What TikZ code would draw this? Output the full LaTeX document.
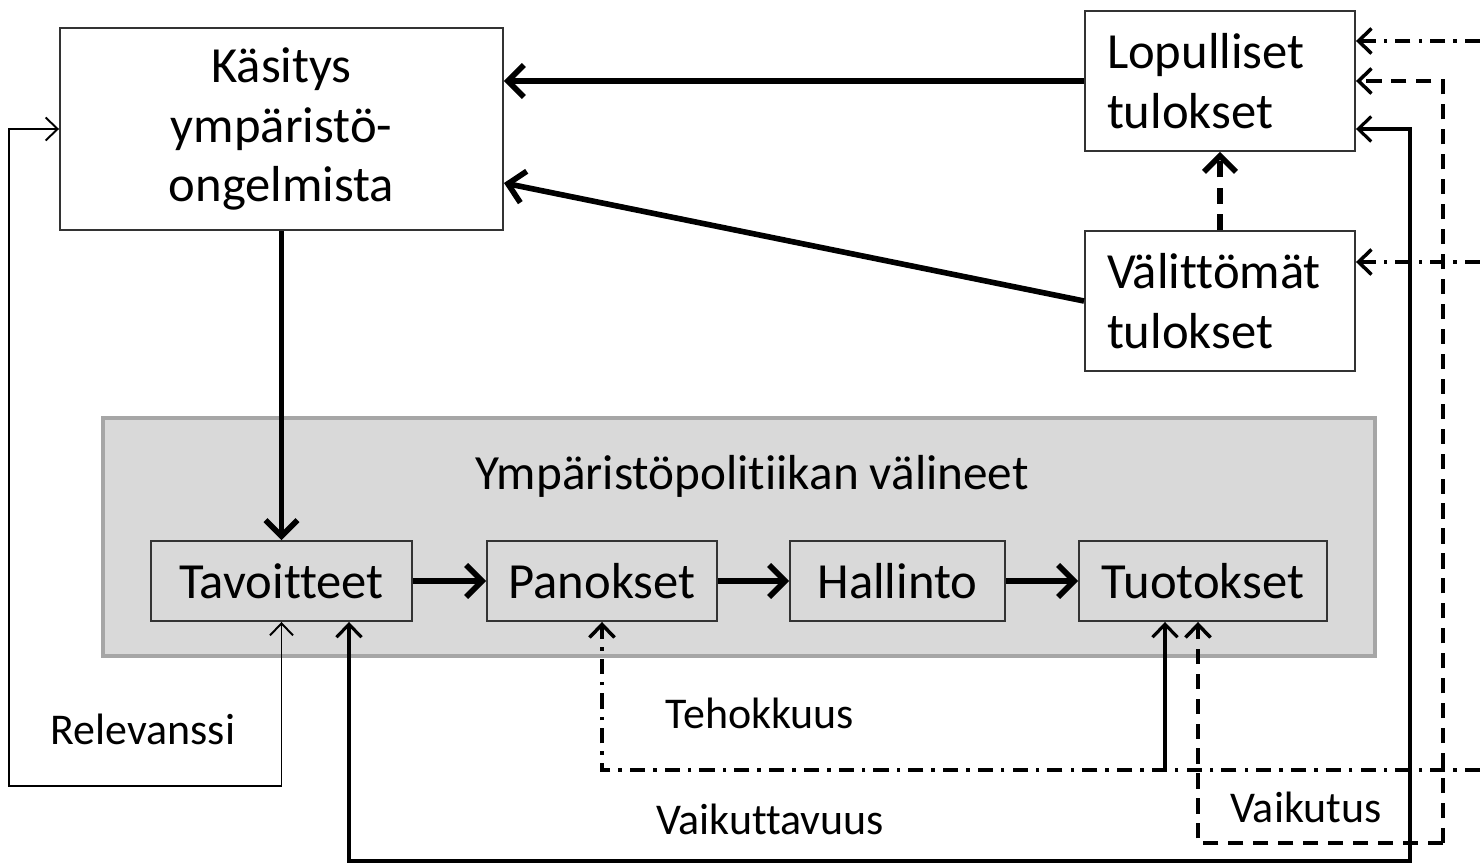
\documentclass[tikz,border=0pt]{standalone}
\usepackage{fontspec}
\setmainfont{Carlito}[Ligatures=NoCommon]
\usetikzlibrary{arrows.meta}

\begin{document}
\begin{tikzpicture}[
    box_node/.style={draw=black!80, line width=0.55pt, fill=white, inner sep=0pt,
        font=\fontsize{14.4}{17}\selectfont},
    step_node/.style={draw=black!80, line width=0.55pt, fill=black!15, inner sep=0pt,
        minimum height=0.8cm, font=\fontsize{14.4}{17}\selectfont},
    label_node/.style={font=\fontsize{12.5}{15}\selectfont},
    thick_arrow/.style={line width=1.6pt, -{Straight Barb[length=1.6mm,width=3.2mm,line width=1.6pt]}},
    mid_arrow/.style={line width=0.9pt, -{Straight Barb[length=1.3mm,width=2.5mm,line width=0.9pt]}},
    thin_arrow/.style={line width=0.55pt, {Straight Barb[length=1.2mm,width=2.3mm,line width=0.55pt]}-{Straight Barb[length=1.2mm,width=2.3mm,line width=0.55pt]}},
    dash_arrow/.style={line width=1pt, dash pattern=on 4.3pt off 2.8pt, -{Straight Barb[length=1.3mm,width=2.5mm,line width=1pt]}},
    dashdot_arrow/.style={line width=1pt, dash pattern=on 4.3pt off 2.3pt on 1pt off 2.3pt, -{Straight Barb[length=1.3mm,width=2.5mm,line width=1pt]}}]

    \useasboundingbox (0,0) rectangle (14.80,-8.63);

    % upper boxes
    \node[box_node, minimum width=4.43cm, minimum height=2.02cm, align=center] (kasitys) at (2.815,-1.29) {Käsitys\\ympäristö-\\ongelmista};
    \node[box_node, minimum width=2.70cm, minimum height=1.40cm, align=left, text width=2.26cm] (lopulliset) at (12.20,-0.81) {Lopulliset\\tulokset};
    \node[box_node, minimum width=2.70cm, minimum height=1.40cm, align=left, text width=2.26cm] (valittomat) at (12.20,-3.01) {Välittömät\\tulokset};

    % instruments
    \draw[draw=black!35, line width=1.2pt, fill=black!15] (1.03,-4.18) rectangle (13.75,-6.56);
    \node[font=\fontsize{14}{17}\selectfont] (valineet) at (7.52,-4.76) {Ympäristöpolitiikan välineet};
    \node[step_node, minimum width=2.61cm] (tavoitteet) at (2.815,-5.81) {Tavoitteet};
    \node[step_node, minimum width=2.30cm] (panokset) at (6.02,-5.81) {Panokset};
    \node[step_node, minimum width=2.15cm] (hallinto) at (8.975,-5.81) {Hallinto};
    \node[step_node, minimum width=2.48cm] (tuotokset) at (12.03,-5.81) {Tuotokset};

    \draw[thick_arrow] (tavoitteet) -- (panokset);
    \draw[thick_arrow] (panokset) -- (hallinto);
    \draw[thick_arrow] (hallinto) -- (tuotokset);
    \draw[thick_arrow] (kasitys) -- (tavoitteet);
    \draw[thick_arrow] (lopulliset.west) -- (lopulliset.west -| kasitys.east);
    \draw[thick_arrow] (valittomat.west) -- ([yshift=-5.4mm]kasitys.east);
    \draw[thick_arrow, dash pattern=on 4.5pt off 3pt] (valittomat.north) -- (lopulliset.south);

    % feedback lines
    \coordinate (rel_corner) at (0.09,-7.86);
    \coordinate (vk_corner) at (14.10,-8.61);
    \coordinate (vt_corner) at (14.43,-8.43);
    \coordinate (edge_top) at (14.80,-0.41);
    \coordinate (edge_mid) at (14.80,-2.62);
    \coordinate (edge_low) at (14.80,-7.70);

    \draw[thin_arrow] (tavoitteet.south) |- (rel_corner) |- (kasitys.west);
    \draw[mid_arrow, {Straight Barb[length=1.3mm,width=2.5mm,line width=0.9pt]}-{Straight Barb[length=1.3mm,width=2.5mm,line width=0.9pt]}] ([yshift=-4.8mm]lopulliset.east) -| (vk_corner) -| ([xshift=6.75mm]tavoitteet.south);
    \draw[dashdot_arrow] (edge_low) -| (panokset.south);
    \draw[dashdot_arrow] (edge_top) -- (lopulliset.east |- edge_top);
    \draw[dashdot_arrow] (edge_mid) -- (valittomat.east |- edge_mid);
    \draw[mid_arrow] ([xshift=-3.8mm]tuotokset.south |- edge_low) -- ([xshift=-3.8mm]tuotokset.south);
    \draw[dash_arrow] (vt_corner) -| (14.43,-0.81) -- (lopulliset.east);
    \draw[dash_arrow] (vt_corner) -| ([xshift=-0.5mm]tuotokset.south);

    % labels
    \node[label_node] (relevanssi) at (1.43,-7.29) {Relevanssi};
    \node[label_node] (tehokkuus) at (7.60,-7.13) {Tehokkuus};
    \node[label_node] (vaikuttavuus) at (7.70,-8.19) {Vaikuttavuus};
    \node[label_node] (vaikutus) at (13.06,-8.07) {Vaikutus};
\end{tikzpicture}
\end{document}
